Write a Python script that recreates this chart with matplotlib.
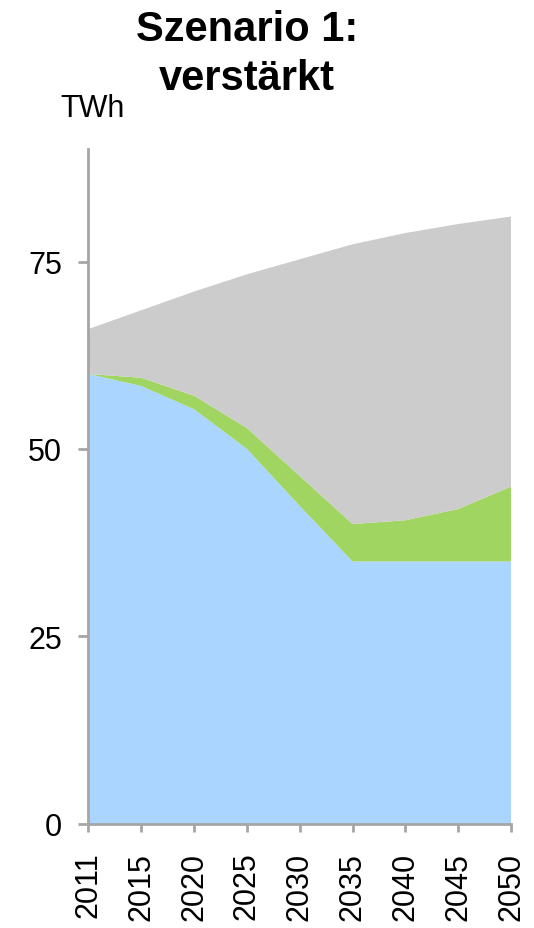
import matplotlib
matplotlib.use('Agg')
from matplotlib import pyplot as plt

plt.rcParams['font.family'] = ['Liberation Sans', 'DejaVu Sans']

years = ['2011', '2015', '2020', '2025', '2030', '2035', '2040', '2045', '2050']
blue = [60.0, 58.4, 55.3, 50.0, 42.4, 35.0, 35.0, 35.0, 35.0]
green = [0.0, 1.1, 1.8, 2.8, 4.0, 5.0, 5.5, 7.0, 10.0]
gray = [6.0, 9.0, 13.9, 20.5, 28.9, 37.3, 38.3, 38.0, 36.0]

colors = ['#a9d5fe', '#a0d561', '#cccccc']
axis_grey = '#a6a6a6'

fig = plt.figure(figsize=(5.34, 9.29), dpi=100)
ax = fig.add_axes([0.1657, 0.1120, 0.7913, 0.7265])

x = range(len(years))
ax.stackplot(x, blue, green, gray, colors=colors, linewidth=0)

ax.set_xlim(0, len(years) - 1)
ax.set_ylim(0, 90)
ax.set_yticks([0, 25, 50, 75])
ax.set_xticks(list(x))
ax.set_xticklabels(years, rotation=90)

for side in ('top', 'right'):
    ax.spines[side].set_visible(False)
for side in ('left', 'bottom'):
    ax.spines[side].set_color(axis_grey)
    ax.spines[side].set_linewidth(2)

ax.tick_params(axis='y', length=7, width=2, color=axis_grey, pad=12, labelsize=22)
ax.tick_params(axis='x', length=6, width=2, color=axis_grey, pad=14, labelsize=22)

# two-line bold title, one text per line
fig.text(0.4625, 1 - 41 / 929, 'Szenario 1:', ha='center', va='baseline',
         fontsize=30, fontweight='bold')
fig.text(0.4625, 1 - 90 / 929, 'verstärkt', ha='center', va='baseline',
         fontsize=30, fontweight='bold')
fig.text(60 / 534, 1 - 117 / 929, 'TWh', ha='left', va='baseline', fontsize=22)

fig.savefig('out.png', dpi=100)
